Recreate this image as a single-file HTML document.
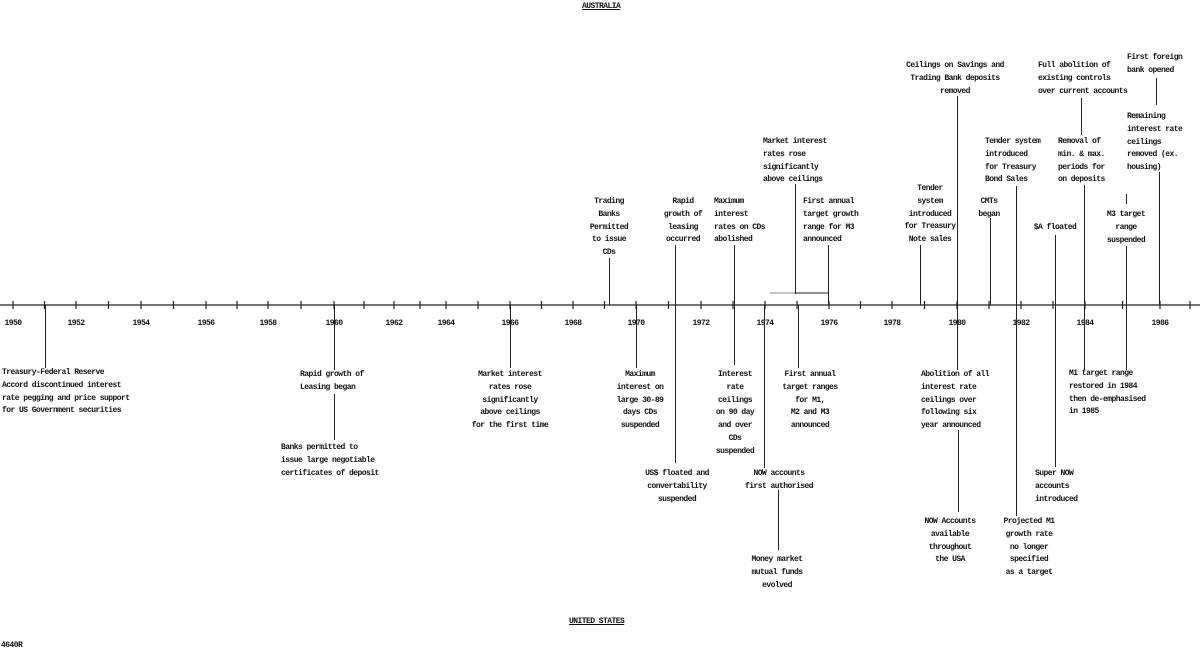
<!DOCTYPE html>
<html><head><meta charset="utf-8"><style>
body{margin:0;background:#fff;}
#c{position:relative;width:1200px;height:648px;overflow:hidden;background:#fff;font-family:"Liberation Mono",monospace;font-weight:bold;font-size:8px;letter-spacing:-0.55px;color:#111;}
.t{position:absolute;line-height:12.8px;white-space:nowrap;}
.c{text-align:center;transform:translateX(-50%);}
.v{position:absolute;width:1.3px;background:#222;}
.y{position:absolute;top:319px;transform:translateX(-50%);}
</style></head><body><div id="c">
<svg width="1200" height="648" style="position:absolute;left:0;top:0">
<line x1="0" y1="305" x2="1200" y2="305" stroke="#222" stroke-width="1.3"/>
<g stroke="#222" stroke-width="1.2" id="ticks"></g>
<line x1="770" y1="293" x2="828" y2="293" stroke="#888" stroke-width="1"/>
<line x1="796" y1="293" x2="828" y2="293" stroke="#222" stroke-width="1"/>
</svg>
<div class="t" style="left:582px;top:1px;text-decoration:underline">AUSTRALIA</div>
<div class="t" style="left:569px;top:616px;text-decoration:underline">UNITED STATES</div>
<div class="t" style="left:1px;top:640px">4640R</div>

<div class="y" style="left:13px">1950</div><div class="y" style="left:76px">1952</div><div class="y" style="left:141px">1954</div><div class="y" style="left:206px">1956</div><div class="y" style="left:268px">1958</div><div class="y" style="left:334px">1960</div><div class="y" style="left:394px">1962</div><div class="y" style="left:446px">1964</div><div class="y" style="left:510px">1966</div><div class="y" style="left:573px">1968</div><div class="y" style="left:636px">1970</div><div class="y" style="left:701px">1972</div><div class="y" style="left:765px">1974</div><div class="y" style="left:829px">1976</div><div class="y" style="left:892px">1978</div><div class="y" style="left:957px">1980</div><div class="y" style="left:1021px">1982</div><div class="y" style="left:1085px">1984</div><div class="y" style="left:1160px">1986</div>

<!-- top labels -->
<div class="t c" style="left:609px;top:196px">Trading<br>Banks<br>Permitted<br>to issue<br>CDs</div>
<div class="v" style="left:609px;top:258px;height:47px"></div>
<div class="t c" style="left:683px;top:196px">Rapid<br>growth of<br>leasing<br>occurred</div>
<div class="v" style="left:675px;top:245px;height:218px"></div>
<div class="t" style="left:714px;top:196px">Maximum<br>interest<br>rates on CDs<br>abolished</div>
<div class="v" style="left:734px;top:245px;height:120px"></div>
<div class="t" style="left:763px;top:136px">Market interest<br>rates rose<br>significantly<br>above ceilings</div>
<div class="v" style="left:795px;top:184px;height:110px"></div>
<div class="t" style="left:803px;top:196px">First annual<br>target growth<br>range for M3<br>announced</div>
<div class="v" style="left:828px;top:245px;height:60px"></div>
<div class="t c" style="left:930px;top:183px">Tender<br>system<br>introduced<br>for Treasury<br>Note sales</div>
<div class="v" style="left:920px;top:245px;height:60px"></div>
<div class="t c" style="left:955px;top:60px">Ceilings on Savings and<br>Trading Bank deposits<br>removed</div>
<div class="v" style="left:957px;top:96px;height:274px"></div>
<div class="t" style="left:985px;top:136px">Tender system<br>introduced<br>for Treasury<br>Bond Sales</div>
<div class="v" style="left:1016px;top:186px;height:330px"></div>
<div class="t c" style="left:989px;top:196px">CMTs<br>began</div>
<div class="v" style="left:990px;top:218px;height:87px"></div>
<div class="t c" style="left:1055px;top:222px">$A floated</div>
<div class="v" style="left:1055px;top:235px;height:232px"></div>
<div class="t" style="left:1038px;top:60px">Full abolition of<br>existing controls<br>over current accounts</div>
<div class="v" style="left:1081px;top:98px;height:37px"></div>
<div class="t" style="left:1058px;top:136px">Removal of<br>min. &amp; max.<br>periods for<br>on deposits</div>
<div class="v" style="left:1084px;top:185px;height:185px"></div>
<div class="t" style="left:1127px;top:52px">First foreign<br>bank opened</div>
<div class="v" style="left:1156px;top:78px;height:27px"></div>
<div class="t" style="left:1127px;top:111px">Remaining<br>interest rate<br>ceilings<br>removed (ex.<br>housing)</div>
<div class="v" style="left:1159px;top:172px;height:133px"></div>
<div class="t c" style="left:1126px;top:209px">M3 target<br>range<br>suspended</div>
<div class="v" style="left:1126px;top:194px;height:10px"></div>
<div class="v" style="left:1126px;top:246px;height:124px"></div>

<!-- bottom labels -->
<div class="v" style="left:45px;top:305px;height:63px"></div>
<div class="t" style="left:2px;top:367px">Treasury-Federal Reserve<br>Accord discontinued interest<br>rate pegging and price support<br>for US Government securities</div>
<div class="v" style="left:334px;top:305px;height:65px"></div>
<div class="t" style="left:300px;top:369px">Rapid growth of<br>Leasing began</div>
<div class="v" style="left:334px;top:394px;height:46px"></div>
<div class="t" style="left:281px;top:442px">Banks permitted to<br>issue large negotiable<br>certificates of deposit</div>
<div class="v" style="left:510px;top:305px;height:63px"></div>
<div class="t c" style="left:510px;top:369px">Market interest<br>rates rose<br>significantly<br>above ceilings<br>for the first time</div>
<div class="v" style="left:636px;top:305px;height:63px"></div>
<div class="t c" style="left:640px;top:369px">Maximum<br>interest on<br>large 30-89<br>days CDs<br>suspended</div>
<div class="t c" style="left:677px;top:468px">US$ floated and<br>convertability<br>suspended</div>
<div class="t c" style="left:735px;top:369px">Interest<br>rate<br>ceilings<br>on 90 day<br>and over<br>CDs<br>suspended</div>
<div class="v" style="left:764px;top:305px;height:163px"></div>
<div class="t c" style="left:779px;top:468px">NOW accounts<br>first authorised</div>
<div class="v" style="left:778px;top:490px;height:60px"></div>
<div class="t c" style="left:777px;top:554px">Money market<br>mutual funds<br>evolved</div>
<div class="v" style="left:798px;top:305px;height:63px"></div>
<div class="t c" style="left:810px;top:369px">First annual<br>target ranges<br>for M1,<br>M2 and M3<br>announced</div>
<div class="t" style="left:921px;top:369px">Abolition of all<br>interest rate<br>ceilings over<br>following six<br>year announced</div>
<div class="v" style="left:958px;top:430px;height:82px"></div>
<div class="t c" style="left:950px;top:516px">NOW Accounts<br>available<br>throughout<br>the USA</div>
<div class="t c" style="left:1029px;top:516px">Projected M1<br>growth rate<br>no longer<br>specified<br>as a target</div>
<div class="t" style="left:1035px;top:468px">Super NOW<br>accounts<br>introduced</div>
<div class="t" style="left:1069px;top:368px">M1 target range<br>restored in 1984<br>then de-emphasised<br>in 1985</div>
</div>
<script>
var xs=[13,76,141,206,268,334,394,446,510,573,636,701,765,829,892,957,1021,1085,1160];
var g=document.getElementById('ticks'),s='';
for(var i=0;i<xs.length;i++){s+='<line x1="'+xs[i]+'" y1="301" x2="'+xs[i]+'" y2="309"/>';if(i<xs.length-1){var m=(xs[i]+xs[i+1])/2;s+='<line x1="'+m+'" y1="301" x2="'+m+'" y2="309"/>';}}
s+='<line x1="1190" y1="301" x2="1190" y2="309"/>';
g.innerHTML=s;
</script>
</body></html>
